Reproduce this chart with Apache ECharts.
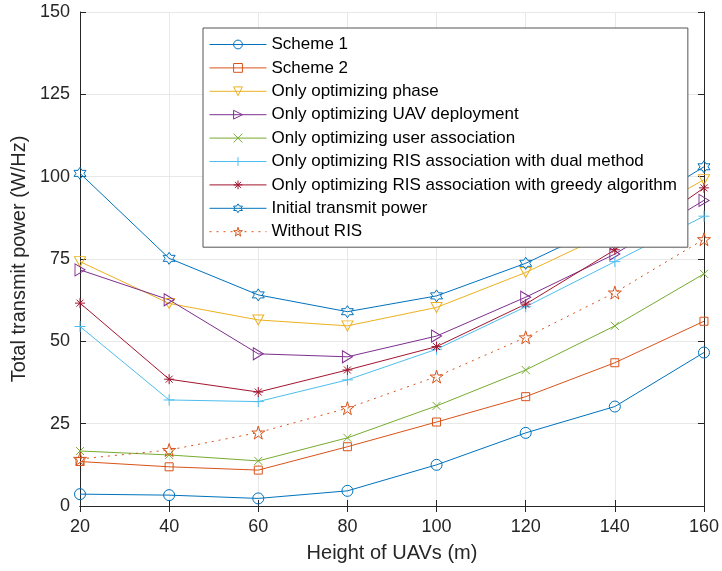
<!DOCTYPE html>
<html>
<head>
<meta charset="utf-8">
<script src="https://cdn.jsdelivr.net/npm/echarts@6/dist/echarts.min.js"></script>
<style>
  html, body { margin: 0; padding: 0; background: #fff; }
  #chart { width: 722px; height: 571px; }
</style>
</head>
<body>
<div id="chart"></div>
<script>
// UAV heights (m)
const heights = [20, 40, 60, 80, 100, 120, 140, 160];

// total transmit power (W/Hz)
const scheme1     = [3.6, 3.3, 2.3, 4.6, 12.5, 22.2, 30.2, 46.6];
const scheme2     = [13.5, 11.9, 10.9, 18.0, 25.5, 33.2, 43.5, 56.1];
const onlyPhase   = [74.2, 61.5, 56.5, 54.7, 60.3, 70.9, 83.7, 99.1];
const onlyUav     = [71.7, 62.6, 46.2, 45.3, 51.6, 63.4, 76.5, 92.8];
const onlyUser    = [16.7, 15.5, 13.7, 20.7, 30.4, 41.3, 54.7, 70.5];
const onlyRisDual = [54.5, 32.2, 31.7, 38.3, 47.6, 60.5, 74.2, 88.0];
const onlyRisGreedy = [61.6, 38.5, 34.6, 41.3, 48.4, 61.3, 77.8, 96.6];
const initialPower = [101.0, 75.2, 64.1, 59.0, 63.8, 73.7, 86.5, 103.0];
const withoutRis  = [14.3, 17.0, 22.3, 29.7, 39.3, 51.2, 64.8, 81.0];

const yTicks = { min: 0, max: 150, step: 25 };
const xTicks = { min: 20, max: 160, step: 20 };

const FONT = '"Liberation Sans", Arial, Helvetica, sans-serif';
const INK = '#262626';

// marker shapes (MATLAB style)
function starPath(points, innerRatio) {
  let d = '';
  for (let i = 0; i < points * 2; i++) {
    const r = i % 2 === 0 ? 10 : 10 * innerRatio;
    const a = -Math.PI / 2 + i * Math.PI / points;
    d += (i === 0 ? 'M' : 'L') + (r * Math.cos(a)).toFixed(2) + ',' + (r * Math.sin(a)).toFixed(2);
  }
  return 'path://' + d + 'Z';
}
const SYM = {
  circle: 'circle',
  square: 'rect',
  triDown: 'path://M0,0L12,0L6,10.4Z',
  triRight: 'path://M0,0L10.4,6L0,12Z',
  cross: 'path://M0,0L10,10M10,0L0,10',
  plus: 'path://M5,0L5,10M0,5L10,5',
  asterisk: 'path://M5,0L5,10M0,5L10,5M1.5,1.5L8.5,8.5M8.5,1.5L1.5,8.5',
  hexagram: starPath(6, 0.577),
  pentagram: starPath(5, 0.382)
};

const seriesDefs = [
  { name: 'Scheme 1', data: scheme1, color: '#0072BD', symbol: SYM.circle, size: 11 },
  { name: 'Scheme 2', data: scheme2, color: '#D95319', symbol: SYM.square, size: 8 },
  { name: 'Only optimizing phase', data: onlyPhase, color: '#EDB120', symbol: SYM.triDown, size: [11, 10] },
  { name: 'Only optimizing UAV deployment', data: onlyUav, color: '#7E2F8E', symbol: SYM.triRight, size: [10, 12] },
  { name: 'Only optimizing user association', data: onlyUser, color: '#77AC30', symbol: SYM.cross, size: 8 },
  { name: 'Only optimizing RIS association with dual method', data: onlyRisDual, color: '#4DBEEE', symbol: SYM.plus, size: 11 },
  { name: 'Only optimizing RIS association with greedy algorithm', data: onlyRisGreedy, color: '#A2142F', symbol: SYM.asterisk, size: 10 },
  { name: 'Initial transmit power', data: initialPower, color: '#0072BD', symbol: SYM.hexagram, size: 12 },
  { name: 'Without RIS', data: withoutRis, color: '#D95319', symbol: SYM.pentagram, size: 13, dotted: true }
];

const series = seriesDefs.map(s => ({
  name: s.name,
  type: 'line',
  data: heights.map((h, i) => [h, s.data[i]]),
  symbol: s.symbol,
  symbolSize: s.size,
  showAllSymbol: true,
  animation: false,
  lineStyle: { color: s.color, width: 1, type: s.dotted ? [2, 5] : 'solid' },
  itemStyle: { color: 'rgba(0,0,0,0)', borderColor: s.color, borderWidth: 1 },
  emphasis: { disabled: true }
}));

const chart = echarts.init(document.getElementById('chart'));
chart.setOption({
  backgroundColor: '#fff',
  animation: false,
  textStyle: { fontFamily: FONT },
  grid: { left: 80, right: 16, top: 12, bottom: 65 },
  legend: {
    orient: 'vertical',
    left: 203,
    top: 28,
    padding: [8, 11, 7, 6],
    itemWidth: 57,
    itemHeight: 11,
    itemGap: 6.4,
    backgroundColor: '#fff',
    borderColor: '#555',
    borderWidth: 1,
    borderRadius: 0,
    lineStyle: { width: 1 },
    itemStyle: { borderWidth: 1 },
    textStyle: { fontSize: 17, color: '#000', fontFamily: FONT },
    data: seriesDefs.map(s => s.name)
  },
  xAxis: [{
    type: 'value',
    min: xTicks.min, max: xTicks.max, interval: xTicks.step,
    name: 'Height of UAVs (m)',
    nameLocation: 'middle',
    nameGap: 37,
    nameTextStyle: { fontSize: 20, color: INK, fontFamily: FONT },
    axisLine: { show: true, lineStyle: { color: INK, width: 1 } },
    axisTick: { show: true, inside: true, length: 6, lineStyle: { color: INK } },
    axisLabel: { fontSize: 18, color: INK, margin: 12, fontFamily: FONT },
    splitLine: { show: true, lineStyle: { color: '#e8e8e8', width: 1 } }
  }, {
    type: 'value', position: 'top',
    min: xTicks.min, max: xTicks.max, interval: xTicks.step,
    axisLine: { show: true, lineStyle: { color: INK, width: 1 } },
    axisTick: { show: true, inside: true, length: 6, lineStyle: { color: INK } },
    axisLabel: { show: false },
    splitLine: { show: false }
  }],
  yAxis: [{
    type: 'value',
    min: yTicks.min, max: yTicks.max, interval: yTicks.step,
    name: 'Total transmit power (W/Hz)',
    nameLocation: 'middle',
    nameGap: 47,
    nameTextStyle: { fontSize: 20, color: INK, fontFamily: FONT },
    axisLine: { show: true, lineStyle: { color: INK, width: 1 } },
    axisTick: { show: true, inside: true, length: 6, lineStyle: { color: INK } },
    axisLabel: { fontSize: 18, color: INK, margin: 10, fontFamily: FONT },
    splitLine: { show: true, lineStyle: { color: '#e8e8e8', width: 1 } }
  }, {
    type: 'value', position: 'right',
    min: yTicks.min, max: yTicks.max, interval: yTicks.step,
    axisLine: { show: true, lineStyle: { color: INK, width: 1 } },
    axisTick: { show: true, inside: true, length: 6, lineStyle: { color: INK } },
    axisLabel: { show: false },
    splitLine: { show: false }
  }],
  series: series
});
</script>
</body>
</html>
